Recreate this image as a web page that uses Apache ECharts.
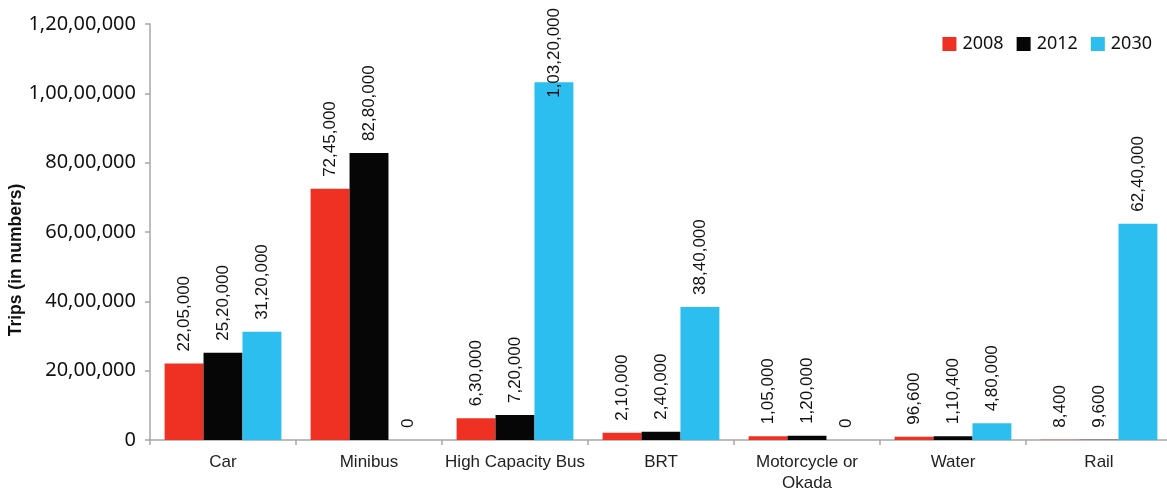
<!DOCTYPE html>
<html>
<head>
<meta charset="utf-8">
<script src="https://cdn.jsdelivr.net/npm/echarts@6/dist/echarts.min.js"></script>
<style>
  html, body { margin: 0; padding: 0; background: #fff; }
  #chart { width: 1167px; height: 493px; }
</style>
</head>
<body>
<div id="chart"></div>
<script>
// Daily trips by mode
const categories = ['Car', 'Minibus', 'High Capacity Bus', 'BRT', 'Motorcycle or\nOkada', 'Water', 'Rail'];
const years = ['2008', '2012', '2030'];
const trips2008 = [2205000, 7245000, 630000, 210000, 105000, 96600, 8400];
const trips2012 = [2520000, 8280000, 720000, 240000, 120000, 110400, 9600];
const trips2030 = [3120000, 0, 10320000, 3840000, 0, 480000, 6240000];
const yTicks = { min: 0, max: 12000000, interval: 2000000 };

const colors = ['#EF3124', '#060606', '#2CBEEE'];
const labelFont = '17px "Liberation Sans", Arial, sans-serif';
const labelDistance = 12;
const labelTopLimit = 8;

// Indian digit grouping: 1,20,00,000
function indian(n) {
  const s = String(Math.round(n));
  if (s.length <= 3) return s;
  const last3 = s.slice(-3);
  let rest = s.slice(0, -3);
  const parts = [];
  while (rest.length > 2) {
    parts.unshift(rest.slice(-2));
    rest = rest.slice(0, -2);
  }
  if (rest.length) parts.unshift(rest);
  return parts.join(',') + ',' + last3;
}

const chart = echarts.init(document.getElementById('chart'), null, { renderer: 'canvas' });

function makeSeries(name, values, color) {
  return {
    name: name,
    type: 'bar',
    data: values.map(v => ({ value: v })),
    itemStyle: { color: color },
    barGap: '0%',
    barCategoryGap: '20%',
    label: {
      show: true,
      position: 'top',
      rotate: 90,
      align: 'left',
      verticalAlign: 'middle',
      distance: labelDistance,
      fontFamily: '"Liberation Sans", Arial, sans-serif',
      fontSize: 17,
      color: '#111',
      formatter: p => indian(p.value)
    }
  };
}

const series = [
  makeSeries(years[0], trips2008, colors[0]),
  makeSeries(years[1], trips2012, colors[1]),
  makeSeries(years[2], trips2030, colors[2])
];

const option = {
  animation: false,
  backgroundColor: '#fff',
  grid: { left: 150, right: -5, top: 24, bottom: 53, containLabel: false, outerBoundsMode: 'none' },
  legend: {
    data: years,
    top: 30,
    right: 10,
    icon: 'rect',
    itemWidth: 14,
    itemHeight: 14,
    itemGap: 13,
    textStyle: { fontFamily: '"Noto Sans", sans-serif', fontSize: 18, color: '#111', padding: [0, 0, 0, 1] }
  },
  xAxis: {
    type: 'category',
    data: categories,
    axisLine: { lineStyle: { color: '#a6a6a6', width: 1.5 } },
    axisTick: { show: true, length: 5, lineStyle: { color: '#a6a6a6', width: 1.5 } },
    axisLabel: {
      interval: 0,
      margin: 12,
      fontFamily: '"Liberation Sans", Arial, sans-serif',
      fontSize: 17,
      lineHeight: 21,
      color: '#222'
    }
  },
  yAxis: {
    type: 'value',
    min: yTicks.min,
    max: yTicks.max,
    interval: yTicks.interval,
    name: 'Trips (in numbers)',
    nameLocation: 'middle',
    nameGap: 125,
    nameMoveOverlap: false,
    nameTextStyle: {
      fontFamily: '"Liberation Sans", Arial, sans-serif',
      fontWeight: 'bold',
      fontSize: 17.5,
      color: '#111',
      padding: [0, 56, 0, 0]
    },
    axisLine: { show: true, lineStyle: { color: '#a6a6a6', width: 1.5 } },
    axisTick: { show: true, length: 5, lineStyle: { color: '#a6a6a6', width: 1.5 } },
    splitLine: { show: false },
    axisLabel: {
      margin: 14,
      fontFamily: '"Noto Sans", sans-serif',
      fontSize: 20,
      color: '#111',
      formatter: v => indian(v)
    }
  },
  series: series
};

chart.setOption(option);

// Labels that would run off the top are pulled down onto their bar
const ctx = document.createElement('canvas').getContext('2d');
ctx.font = labelFont;
series.forEach(s => {
  s.data.forEach(d => {
    const top = chart.convertToPixel({ yAxisIndex: 0 }, d.value);
    const len = ctx.measureText(indian(d.value)).width;
    if (top - labelDistance - len < labelTopLimit) {
      d.label = { distance: top - len - labelTopLimit };
    }
  });
});
chart.setOption({ series: series });
</script>
</body>
</html>
